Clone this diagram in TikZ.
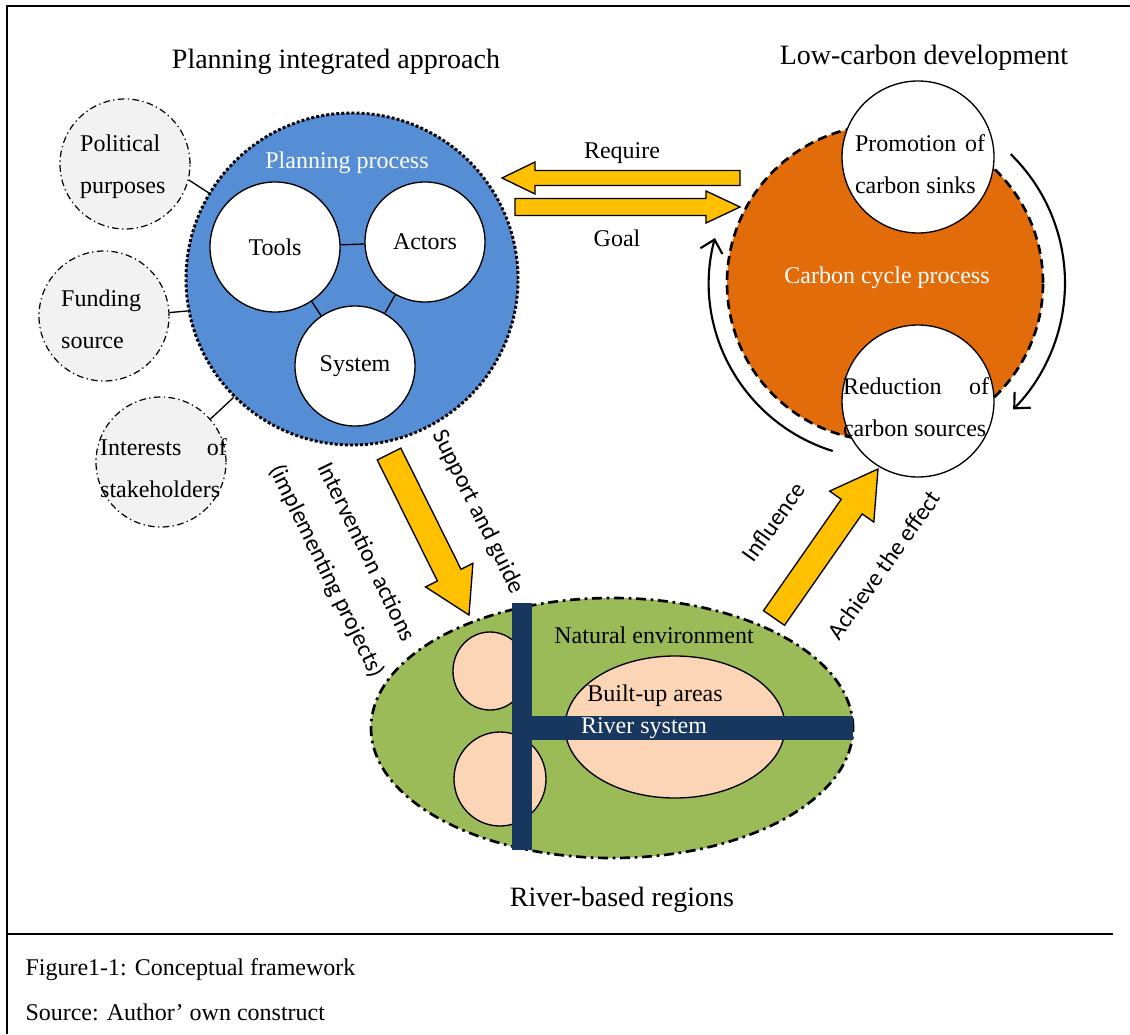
\documentclass[tikz,border=0pt]{standalone}
\usepackage{fontspec}
\setmainfont{Liberation Serif}
\newfontfamily\calfont{Carlito}
\usetikzlibrary{shapes.geometric,arrows.meta}
\hyphenpenalty=10000
\exhyphenpenalty=10000

\definecolor{planblue}{RGB}{85,142,213}
\definecolor{cycleorange}{RGB}{227,108,10}
\definecolor{regiongreen}{RGB}{155,187,89}
\definecolor{builtpeach}{RGB}{251,213,181}
\definecolor{rivernavy}{RGB}{23,55,94}
\definecolor{arrowyellow}{RGB}{255,192,0}
\definecolor{factorgrey}{RGB}{242,242,242}

\tikzset{every picture/.style={line width=0.75pt}}
\tikzset{
  bodytext/.style={font=\fontsize{18}{31.5}\selectfont},
  headtext/.style={font=\fontsize{21}{25}\selectfont},
  sidetext/.style={font=\calfont\fontsize{18}{33}\selectfont, inner sep=0pt},
  factorcircle/.style={circle, draw, fill=factorgrey, line width=0.9pt, dash pattern={on 5pt off 2.5pt on 1pt off 2.5pt}, minimum size=97.5pt, inner sep=0pt},
  factortext/.style={bodytext, text width=95pt, align=justify, inner sep=0pt},
  partcircle/.style={circle, draw, fill=white, line width=1pt, inner sep=0pt, minimum size=90pt, bodytext},
  town/.style={ellipse, draw, fill=builtpeach, line width=1pt, inner sep=0pt},
  blockarrow/.style={draw, fill=arrowyellow, line width=1pt, line join=miter},
  turnarrow/.style={line width=1.6pt, -{Straight Barb[length=9pt,width=17pt]}},
}

\begin{document}
\begin{tikzpicture}[x=0.75pt,y=0.75pt,yscale=-1,xscale=1]
\useasboundingbox (0,0) rectangle (1130,1034);

%Frame
\draw [line width=1.2pt] (1130,6) -- (7,6) -- (7,1034) ;
\draw [line width=1.2pt] (7,934) -- (1113,934) ;

% Titles
\node [headtext] (plantitle) at (336,62) {Planning integrated approach};
\node [headtext] (lowtitle) at (924,58) {Low-carbon development};
\node [headtext] (regiontitle) at (622,900) {River-based regions};

%Shape: Circles (factors)
\node [factorcircle] (political) at (125,164) {};
\node [factorcircle] (funding) at (104,316) {};
\node [factorcircle] (interests) at (161,462) {};
% Text Node
\node [factortext] (politicaltext) at (143.5,167) {Political purposes};
\node [factortext] (fundingtext) at (124.5,319) {Funding source};
\node [factortext] (intereststext) at (163.5,468) {Interests of stakeholders};

%Shape: Circle (planning process)
\node [circle, draw, fill=planblue, line width=2.2pt, dash pattern={on 2.2pt off 1.6pt}, minimum size=249pt, inner sep=0pt] (plan) at (352,279) {};
\node [bodytext, text=white] (plantext) at (347,163) {Planning process};
\node [partcircle, minimum size=97.5pt] (tools) at (275,247) {Tools};
\node [partcircle] (actors) at (425,242) {Actors};
\node [partcircle] (system) at (355,366) {System};

%Straight Lines
\draw [line width=1pt] (tools) -- (actors) ;
\draw [line width=1pt] (tools) -- (system) ;
\draw [line width=1pt] (actors) -- (system) ;
\draw [line width=1pt] (political.-14) -- (plan.149) ;
\draw [line width=1pt] (funding.3.5) -- (plan.191.4) ;
\draw [line width=1pt] (interests.41) -- (plan.225) ;

%Shape: Circle (carbon cycle)
\node [circle, draw, fill=cycleorange, line width=2pt, dash pattern={on 7pt off 4pt}, minimum size=237pt, inner sep=0pt] (cycle) at (885,283) {};
\node [bodytext, text=white] (cycletext) at (887,278) {Carbon cycle process};
\node [partcircle, minimum size=114pt] (sinks) at (918,157) {};
\node [partcircle, minimum size=114pt] (sources) at (918,401) {};
% Text Node
\node [bodytext, text width=97.5pt, align=justify, inner sep=0pt] (sinkstext) at (920,164) {Promotion of carbon sinks};
\node [bodytext, text width=109.5pt, align=justify, inner sep=0pt] (sourcestext) at (916,407.5) {Reduction of carbon sources};

%Curved Arrows
\coordinate (sinkturn) at (1010.7,154.2);
\coordinate (sourceturn) at (832.7,451);
\draw [turnarrow] (sinkturn) arc [start angle=-45.7, end angle=44.6, radius=180] ;
\draw [turnarrow] (sourceturn) arc [start angle=107.3, end angle=194.8, radius=176] ;

%Block Arrows
% Require
\draw [blockarrow] (740,170.5) -- (535,170.5) -- (535,162) -- (502,178) -- (535,194) -- (535,185.5) -- (740,185.5) -- cycle ;
% Goal
\draw [blockarrow] (515,198.5) -- (706,198.5) -- (706,191) -- (740,207) -- (706,223) -- (706,215.5) -- (515,215.5) -- cycle ;
% Support and guide
\draw [blockarrow] (377.2,459.9) -- (437.4,581) -- (425.5,586.9) -- (469,615) -- (472.9,563.4) -- (461,569.3) -- (400.8,448.1) -- cycle ;
% Achieve the effect
\draw [blockarrow] (763.5,610.7) -- (841.2,499.3) -- (829.6,491.1) -- (878,469) -- (873.8,522.1) -- (862.2,513.9) -- (784.5,625.3) -- cycle ;

% Text Node
\node [bodytext] (requiretext) at (622,153) {Require};
\node [bodytext] (goaltext) at (617,238) {Goal};
\node [sidetext, rotate=-63.6] (supporttext) at (478,512) {Support and guide};
\node [sidetext, rotate=-64, align=center] (interventiontext) at (346,562) {Intervention actions\\(implementing projects)};
\node [sidetext, rotate=54.5] (influencetext) at (773.5,522) {Influence};
\node [sidetext, rotate=54.5] (achievetext) at (884,565) {Achieve the effect};

%Shape: Ellipse (river-based region)
\node [ellipse, draw, fill=regiongreen, line width=2pt, dash pattern={on 7.5pt off 3.5pt on 2pt off 3.5pt}, minimum width=361.5pt, minimum height=195pt, inner sep=0pt] (region) at (612,728) {};
\node [town, minimum width=55.5pt, minimum height=58.5pt] (townA) at (490,671) {};
\node [town, minimum width=69pt, minimum height=70.5pt] (townB) at (500,779) {};
\node [town, minimum width=165pt, minimum height=106.5pt] (builtup) at (675,727) {};
%Shape: Rectangle (rivers)
\fill [rivernavy] (512,603) rectangle (532,850) ;
\fill [rivernavy] (520,716) rectangle (853,740) ;
% Text Node
\node [bodytext] (naturaltext) at (654,635) {Natural environment};
\node [bodytext] (builtuptext) at (655,696) {Built-up areas};
\node [bodytext, text=white] (rivertext) at (644,728) {River system};

% Caption
\node [bodytext, anchor=west, inner sep=0pt] (figcaption) at (25,970) {Figure1-1: Conceptual framework};
\node [bodytext, anchor=west, inner sep=0pt] (figsource) at (25,1012) {Source: Author’ own construct};

\end{tikzpicture}
\end{document}
